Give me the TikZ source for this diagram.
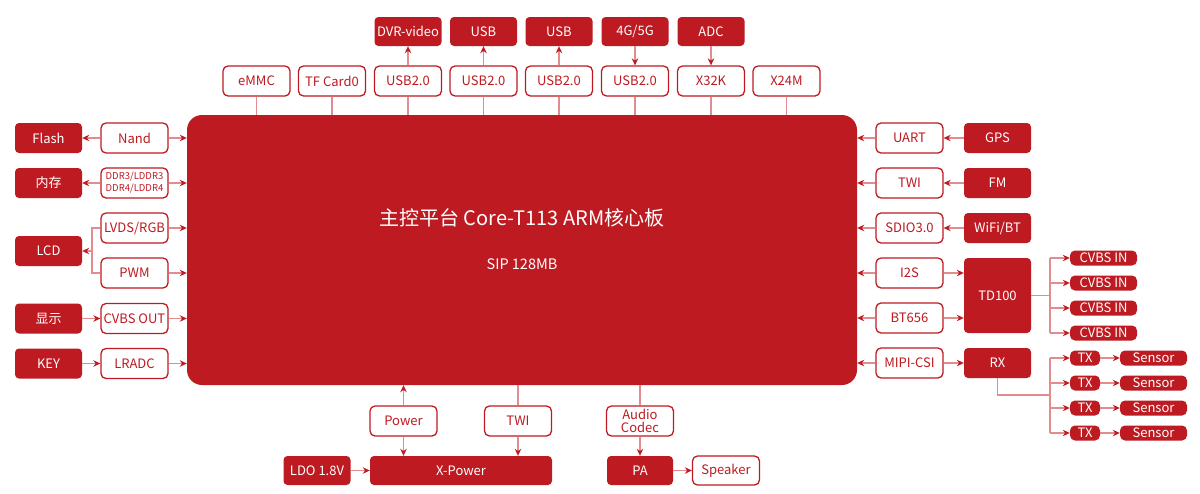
\documentclass[tikz,border=0pt]{standalone}
\usepackage{fontspec}
\setmainfont{Noto Sans CJK SC}
\usetikzlibrary{arrows.meta}
\definecolor{corered}{RGB}{190,26,33}
\definecolor{wirered}{RGB}{226,140,144}

\begin{document}
\begin{tikzpicture}[x=1pt,y=-1pt]
\tikzstyle{port}=[draw=corered,line width=1.3pt,fill=white,rounded corners=5pt,minimum width=67pt,minimum height=30pt,inner sep=0pt,text=corered,font=\fontsize{13}{13}\selectfont,align=center]
\tikzstyle{chip}=[fill=corered,rounded corners=4pt,minimum width=67pt,minimum height=30pt,inner sep=0pt,text=white,font=\fontsize{13}{13}\selectfont,align=center]
\tikzstyle{tag}=[chip,minimum height=15pt,rounded corners=5pt]
\tikzstyle{wire}=[draw=wirered,line width=1.3pt]
\tikzstyle{feed}=[wire,-{Stealth[length=7pt,width=6.5pt,color=corered]}]
\useasboundingbox (0,0) rectangle (1200,493);

\node[fill=corered,rounded corners=15pt,minimum width=670pt,minimum height=270pt] (core) at (522,250) {};
\node[text=white,font=\fontsize{20}{22}\selectfont] (title) at (522,218) {主控平台 Core-T113 ARM核心板};
\node[text=white,font=\fontsize{14.5}{16}\selectfont] (sip) at (522,264) {SIP 128MB};

\node[port] (emmc) at (256.5,81) {eMMC};
\node[port] (tfcard) at (332,81) {TF Card0};
\node[port] (usba) at (408,81) {USB2.0};
\node[port] (usbb) at (483.5,81) {USB2.0};
\node[port] (usbc) at (559,81) {USB2.0};
\node[port] (usbd) at (635,81) {USB2.0};
\node[port] (xtal32) at (711,81) {X32K};
\node[port] (xtal24) at (786.5,81) {X24M};
\node[chip,minimum height=29pt] (dvr) at (408,31.5) {DVR-video};
\node[chip,minimum height=29pt] (usbx) at (483.5,31.5) {USB};
\node[chip,minimum height=29pt] (usby) at (559,31.5) {USB};
\node[chip,minimum height=29pt] (modem) at (635,31.5) {4G/5G};
\node[chip,minimum height=29pt] (adc) at (711,31.5) {ADC};
\foreach \n in {emmc,tfcard,usba,usbb,usbc,usbd,xtal32,xtal24}
  \draw[wire] (\n.south) -- (\n.south |- core.north);
\draw[feed] (usba.north) -- (dvr.south);
\draw[feed] (usbb.north) -- (usbx.south);
\draw[feed] (usbc.north) -- (usby.south);
\draw[feed] (modem.south) -- (usbd.north);
\draw[feed] (adc.south) -- (xtal32.north);

\node[chip] (flash) at (48.5,138) {Flash};
\node[chip] (mem) at (48.5,183) {内存};
\node[chip] (lcd) at (48.5,251) {LCD};
\node[chip] (disp) at (48.5,318.5) {显示};
\node[chip] (key) at (48.5,363.5) {KEY};
\node[port] (nand) at (134.5,138) {Nand};
\node[port,font=\fontsize{9.5}{12}\selectfont] (ddr) at (134.5,183) {DDR3/LDDR3\\DDR4/LDDR4};
\node[port] (lvds) at (134.5,228) {LVDS/RGB};
\node[port] (pwm) at (134.5,273) {PWM};
\node[port] (cvbsout) at (134.5,318.5) {CVBS OUT};
\node[port] (lradc) at (134.5,363.5) {LRADC};
\coordinate (lcdj) at (92,251);
\draw[feed] (nand.west) -- (flash.east);
\draw[feed] (ddr.west) -- (mem.east);
\draw[wire] (lvds.west) -| (lcdj) |- (pwm.west);
\draw[feed] (lcdj) -- (lcd.east);
\draw[feed] (disp.east) -- (cvbsout.west);
\draw[feed] (key.east) -- (lradc.west);
\foreach \n in {nand,ddr,lvds,pwm,cvbsout,lradc}
  \draw[feed] (\n.east) -- (\n.east -| core.west);

\node[port] (uart) at (909.5,138) {UART};
\node[port] (twi) at (909.5,183) {TWI};
\node[port] (sdio) at (909.5,228) {SDIO3.0};
\node[port] (i2s) at (909.5,273) {I2S};
\node[port] (bt656) at (909.5,318) {BT656};
\node[port] (mipi) at (909.5,363) {MIPI-CSI};
\node[chip] (gps) at (997.5,138) {GPS};
\node[chip] (fm) at (997.5,183) {FM};
\node[chip] (wifi) at (997.5,228) {WiFi/BT};
\node[chip,minimum height=75pt] (td100) at (997.5,295.5) {TD100};
\node[chip] (rx) at (997.5,363) {RX};
\draw[feed] (gps.west) -- (uart.east);
\draw[feed] (fm.west) -- (twi.east);
\draw[feed] (wifi.west) -- (sdio.east);
\foreach \n in {uart,twi,sdio,i2s,bt656,mipi}
  \draw[feed] (\n.west) -- (\n.west -| core.east);
\draw[feed] (i2s.east) -- (i2s.east -| td100.west);
\draw[feed] (bt656.east) -- (bt656.east -| td100.west);
\draw[feed] (mipi.east) -- (rx.west);

\coordinate (tdj) at (1050,295.5);
\coordinate (rxj) at (1050,395);
\draw[wire] (td100.east) -- (tdj);
\draw[wire] (rx.south) |- (rxj);
\foreach \i/\y in {1/258,2/283,3/308,4/333}{
  \node[tag] (cin\i) at (1103.5,\y) {CVBS IN};
  \draw[feed] (tdj |- cin\i) -- (cin\i.west);
}
\foreach \i/\y in {1/358,2/383,3/408,4/433}{
  \node[tag,minimum width=30pt] (tx\i) at (1085,\y) {TX};
  \node[tag] (sen\i) at (1153.5,\y) {Sensor};
  \draw[feed] (rxj |- tx\i) -- (tx\i.west);
  \draw[feed] (tx\i.east) -- (sen\i.west);
}
\draw[wire] (tdj |- cin1) -- (tdj |- cin4);
\draw[wire] (rxj |- tx1) -- (rxj |- tx4);

\node[port] (power) at (403.5,421) {Power};
\node[port] (twib) at (518,421) {TWI};
\node[port] (codec) at (640,421) {Audio\\Codec};
\node[chip,minimum width=182pt,minimum height=29pt] (xpower) at (461,470.5) {X-Power};
\node[chip,minimum height=29pt] (ldo) at (317,470.5) {LDO 1.8V};
\node[chip,minimum width=66pt,minimum height=29pt] (pa) at (640,470.5) {PA};
\node[port,minimum height=29pt] (speaker) at (726,470.5) {Speaker};
\draw[feed] (power.north) -- (power.north |- core.south);
\draw[feed] (power.south) -- (power.south |- xpower.north);
\draw[wire] (twib.north) -- (twib.north |- core.south);
\draw[feed] (twib.south) -- (twib.south |- xpower.north);
\draw[wire] (codec.north) -- (codec.north |- core.south);
\draw[feed] (codec.south) -- (pa.north);
\draw[feed] (pa.east) -- (speaker.west);
\draw[feed] (ldo.east) -- (xpower.west);
\end{tikzpicture}
\end{document}
